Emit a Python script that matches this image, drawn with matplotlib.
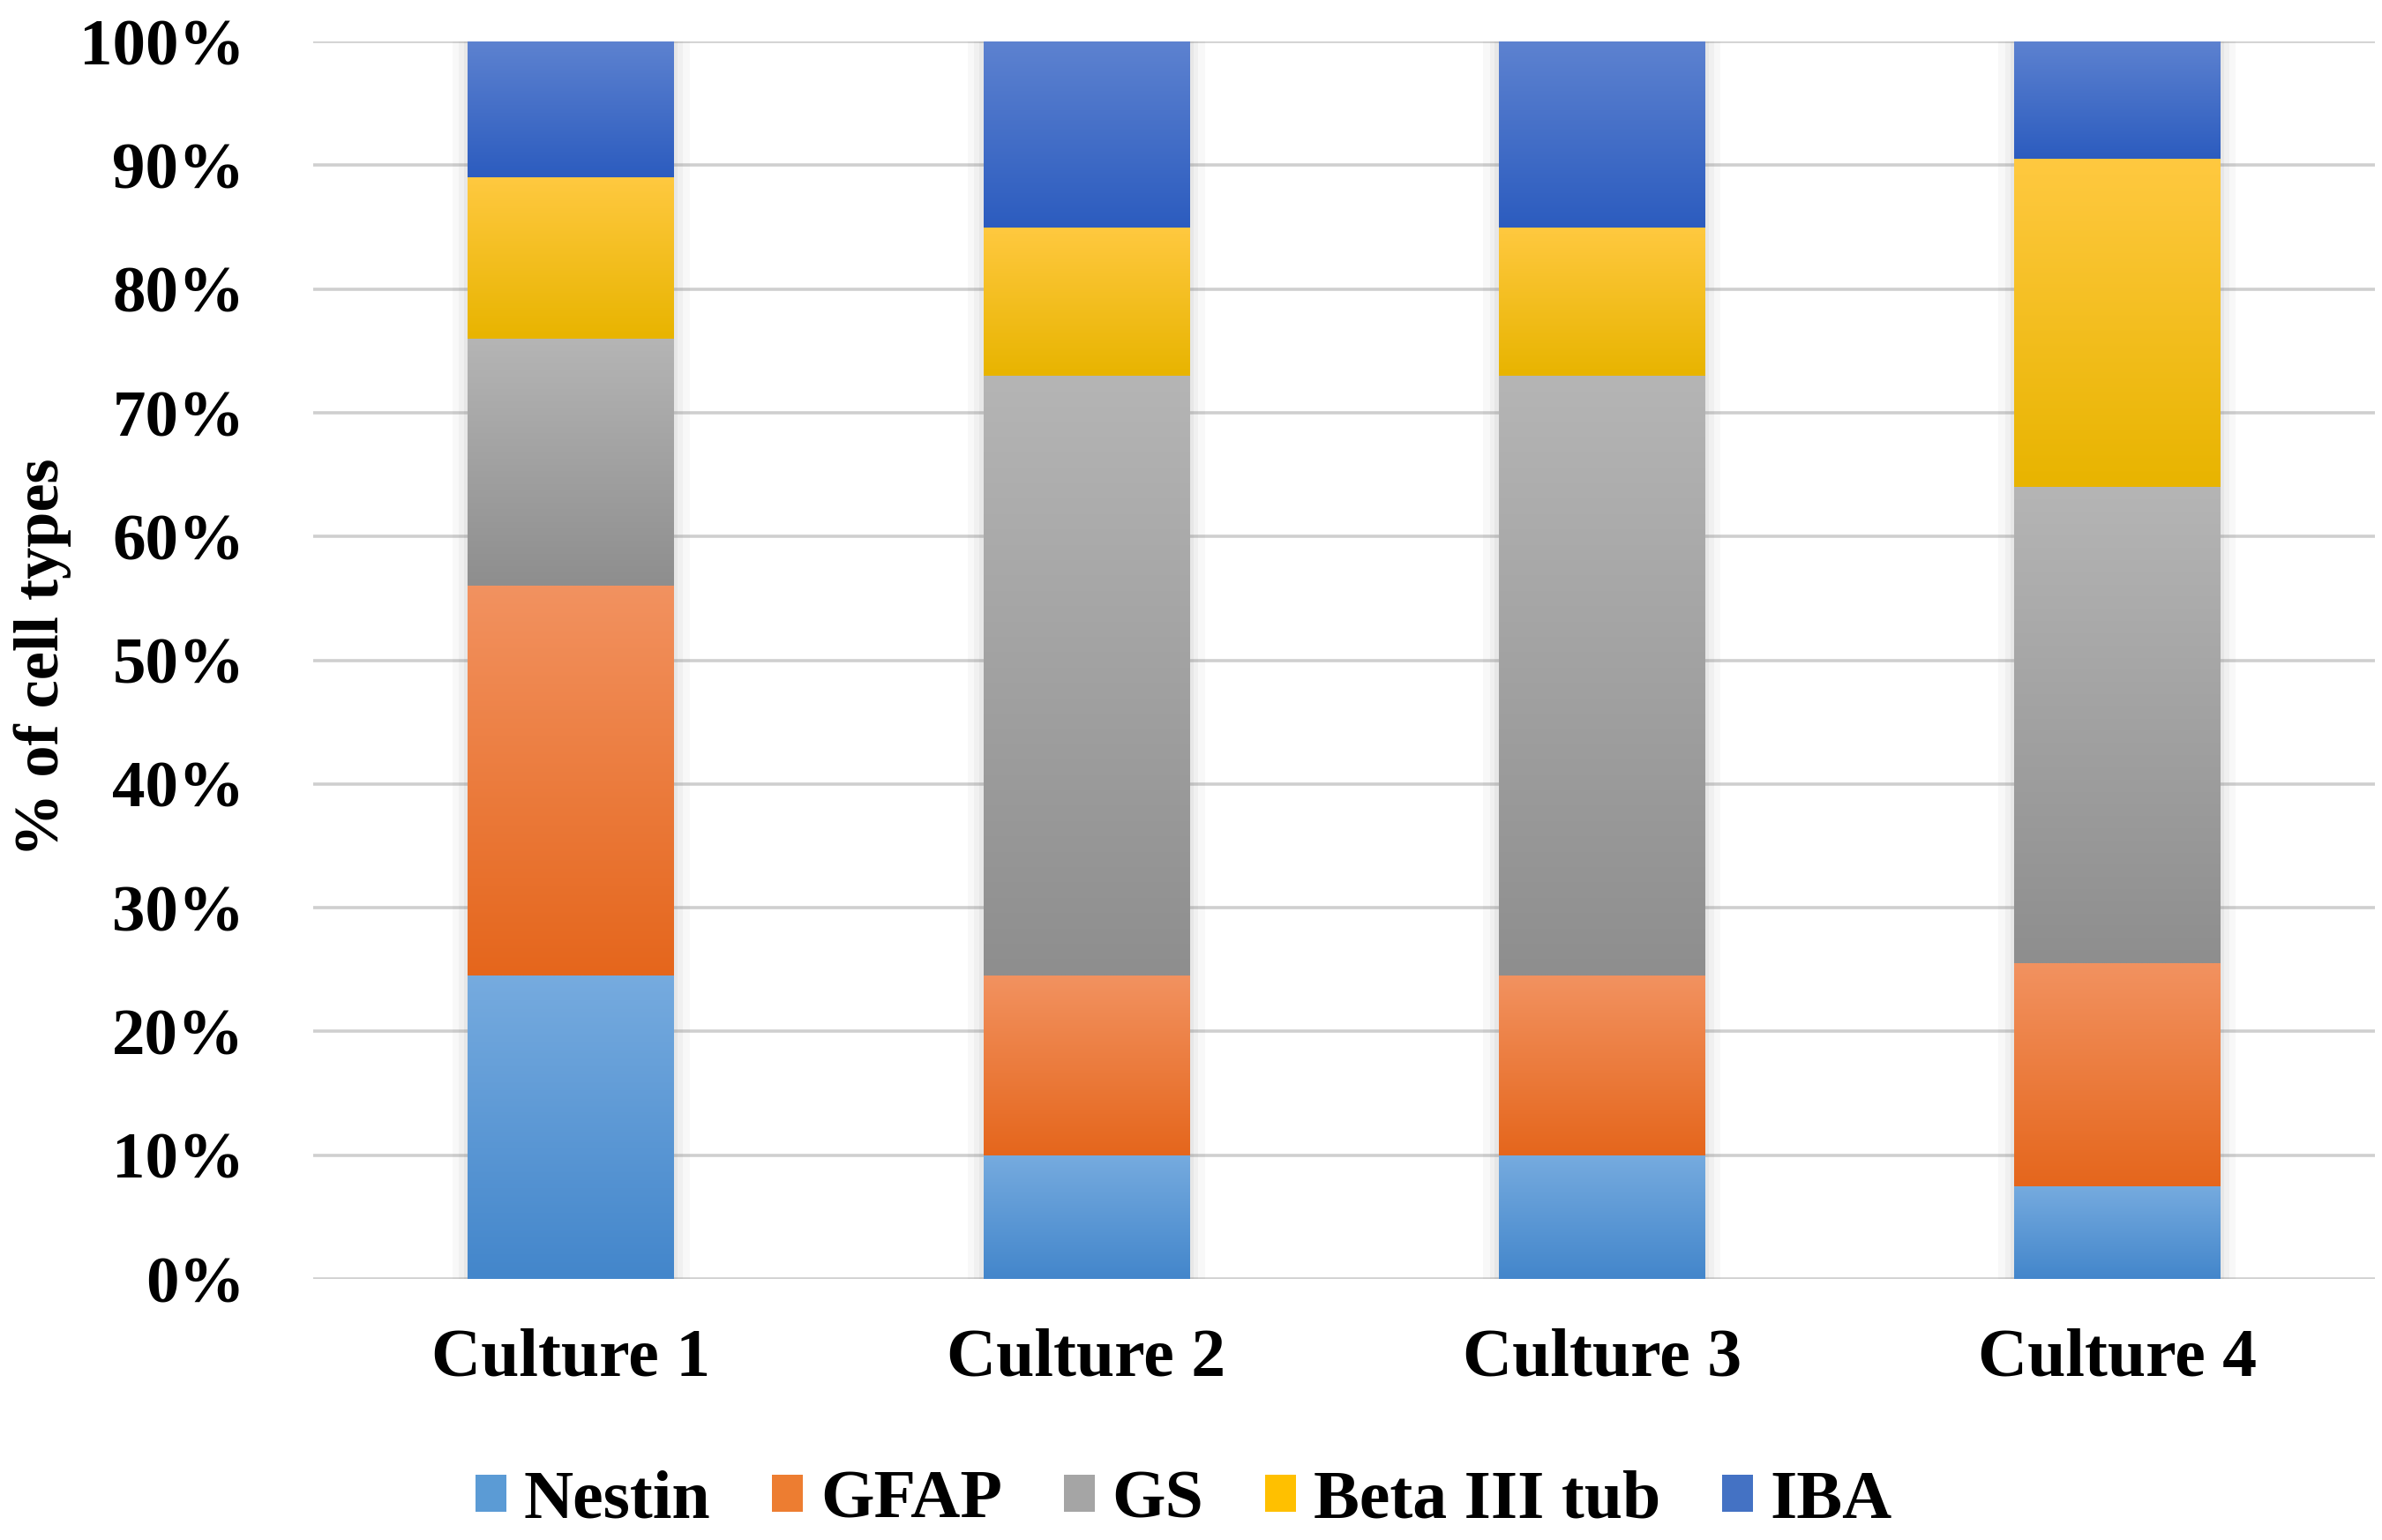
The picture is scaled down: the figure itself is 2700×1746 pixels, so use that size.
import numpy as np
import matplotlib
matplotlib.use("Agg")
import matplotlib.pyplot as plt
from matplotlib.colors import LinearSegmentedColormap

# Data (percent of cell types per culture)
cultures = ["Culture 1", "Culture 2", "Culture 3", "Culture 4"]
markers = ["Nestin", "GFAP", "GS", "Beta III tub", "IBA"]
nestin = [24.5, 10.0, 10.0, 7.5]
gfap = [31.5, 14.5, 14.5, 18.0]
gs = [20.0, 48.5, 48.5, 38.5]
beta3 = [13.0, 12.0, 12.0, 26.5]
iba = [11.0, 15.0, 15.0, 9.5]
yticks = [0, 10, 20, 30, 40, 50, 60, 70, 80, 90, 100]

series = [nestin, gfap, gs, beta3, iba]
# top / bottom gradient colours of each segment
grad = [("#76ABDF", "#4386CB"),
        ("#F29260", "#E5661C"),
        ("#B5B5B5", "#8E8E8E"),
        ("#FFC940", "#E8B400"),
        ("#5D82D0", "#2C5CBF")]
base = ["#5B9BD5", "#ED7D31", "#A5A5A5", "#FFC000", "#4472C4"]

plt.rcParams['font.family'] = ['Liberation Serif', 'DejaVu Serif']
plt.rcParams['font.weight'] = 'bold'

fig = plt.figure(figsize=(27, 17.46), dpi=100)
ax = fig.add_axes([0.1315, 0.1695, 0.8655, 0.8035])

x = np.arange(len(cultures))
width = 0.4

# soft shadow behind the stacks
for k, a in [(0.06, 0.05), (0.035, 0.06), (0.015, 0.08)]:
    ax.bar(x, [100] * len(x), width=width + k, color="#808080", alpha=a,
           zorder=1.5, linewidth=0)

bottom = np.zeros(len(x))
for vals, (top_c, bot_c), bc, name in zip(series, grad, base, markers):
    bars = ax.bar(x, vals, width=width, bottom=bottom, color=bc,
                  label=name, zorder=2, linewidth=0)
    cmap = LinearSegmentedColormap.from_list(name, [bot_c, top_c])
    g = np.linspace(0, 1, 256).reshape(-1, 1)
    for b in bars:
        x0, y0 = b.get_x(), b.get_y()
        im = ax.imshow(g, cmap=cmap, aspect="auto", origin="lower",
                       extent=[x0, x0 + b.get_width(), y0, y0 + b.get_height()],
                       zorder=2.5, interpolation="bilinear")
        im.set_clip_path(b)
    bottom += np.array(vals)

ax.set_xlim(-0.5, 3.5)
ax.set_ylim(0, 100)
ax.set_yticks(yticks)
ax.set_yticklabels([f"{t}%" for t in yticks], fontsize=54, fontweight="bold")
ax.set_xticks(x)
ax.set_xticklabels(cultures, fontsize=56, fontweight="bold")
ax.tick_params(axis="y", length=0, pad=56)
ax.tick_params(axis="x", length=0, pad=40)
ax.yaxis.grid(True, color="#CFCFCF", linewidth=2.6, zorder=0)
ax.set_axisbelow(True)
for s in ax.spines.values():
    s.set_visible(False)

fig.text(0.018, 0.573, "% of cell types", rotation=90, fontsize=52,
         fontweight="bold", ha="center", va="center")

handles, labels = ax.get_legend_handles_labels()
leg = fig.legend(handles, labels, loc="center", bbox_to_anchor=(0.497, 0.025),
                 ncol=5, frameon=False, fontsize=56, handlelength=0.45,
                 handleheight=0.45, handletextpad=0.25, columnspacing=0.9,
                 prop={"weight": "bold", "size": 56})

fig.savefig("out.png", dpi=100)
